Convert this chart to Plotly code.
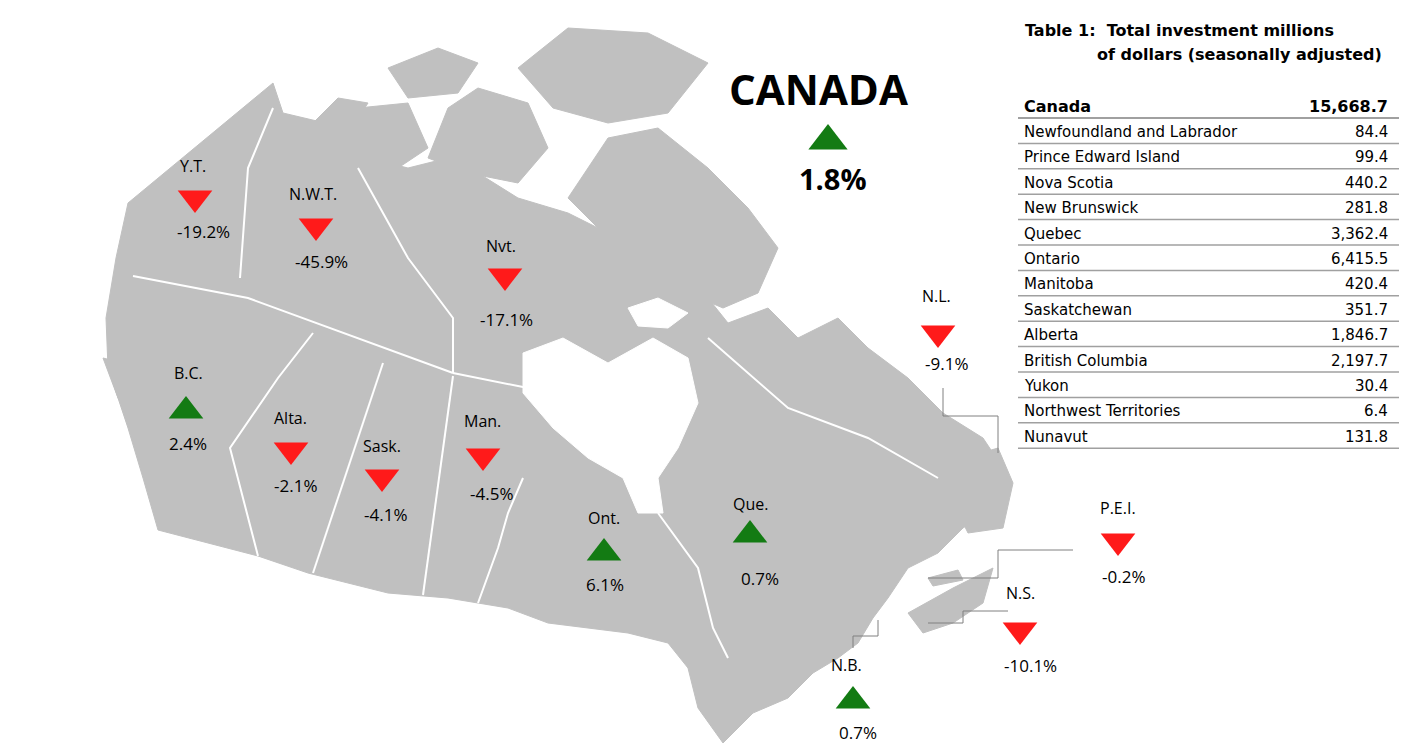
import plotly.graph_objects as go

# ---- data ----
regions = ["Y.T.", "N.W.T.", "Nvt.", "N.L.", "B.C.", "Alta.", "Sask.", "Man.",
           "Ont.", "Que.", "P.E.I.", "N.S.", "N.B."]
changes = [-19.2, -45.9, -17.1, -9.1, 2.4, -2.1, -4.1, -4.5, 6.1, 0.7, -0.2, -10.1, 0.7]
canada_change = 1.8

table_names = ["Newfoundland and Labrador", "Prince Edward Island", "Nova Scotia",
               "New Brunswick", "Quebec", "Ontario", "Manitoba", "Saskatchewan",
               "Alberta", "British Columbia", "Yukon", "Northwest Territories", "Nunavut"]
table_values = [84.4, 99.4, 440.2, 281.8, 3362.4, 6415.5, 420.4, 351.7,
                1846.7, 2197.7, 30.4, 6.4, 131.8]
canada_total = 15668.7

# label / marker / value positions (pixels) for each region
label_pos = [(185, 158), (305, 186), (493, 238), (928, 288), (180, 365), (282, 410),
             (374, 438), (474, 413), (596, 510), (742, 496), (1110, 500), (1012, 585), (838, 657)]
marker_pos = [(187, 190), (308, 218), (497, 268), (930, 325), (178, 403), (283, 442),
              (374, 469), (475, 448), (596, 545), (742, 527), (1110, 533), (1012, 622), (845, 693)]
value_pos = [(195, 223), (313, 253), (498, 311), (938, 355), (180, 435), (287, 477),
             (377, 506), (483, 485), (597, 576), (752, 570), (1115, 568), (1022, 657), (850, 724)]

GREY = "#c0c0c0"
fig = go.Figure()

def poly(pts, color=GREY, line=None):
    xs = [p[0] for p in pts] + [pts[0][0]]
    ys = [p[1] for p in pts] + [pts[0][1]]
    fig.add_trace(go.Scatter(x=xs, y=ys, fill="toself", fillcolor=color, mode="lines",
                             line=dict(color=line or color, width=1), hoverinfo="skip",
                             showlegend=False))

def pline(pts, color="white", width=2):
    fig.add_trace(go.Scatter(x=[p[0] for p in pts], y=[p[1] for p in pts], mode="lines",
                             line=dict(color=color, width=width), hoverinfo="skip",
                             showlegend=False))

# mainland silhouette (rough)
poly([(120, 195), (265, 75), (275, 105), (330, 118), (360, 150), (400, 160), (440, 150),
      (470, 165), (510, 190), (560, 205), (600, 225), (640, 235), (680, 250), (700, 290),
      (720, 315), (760, 300), (790, 330), (830, 310), (860, 340), (900, 370), (935, 405),
      (975, 430), (995, 460), (985, 500), (955, 520), (930, 545), (900, 560), (880, 590),
      (865, 610), (850, 635), (830, 650), (805, 665), (780, 690), (745, 705), (715, 735),
      (690, 700), (680, 660), (660, 635), (620, 625), (580, 620), (540, 615), (500, 600),
      (440, 590), (380, 585), (300, 565), (250, 548), (200, 535), (150, 522), (135, 470),
      (120, 420), (100, 360), (98, 310), (108, 250)])
# arctic islands
poly([(420, 150), (440, 100), (470, 80), (520, 95), (540, 140), (510, 175), (460, 165)])
poly([(330, 130), (350, 100), (400, 95), (420, 140), (390, 160), (350, 150)])
poly([(380, 60), (430, 40), (470, 55), (450, 85), (400, 90)])
poly([(510, 60), (560, 20), (640, 25), (700, 55), (660, 105), (600, 115), (545, 100)])
poly([(560, 190), (600, 130), (650, 120), (700, 160), (740, 200), (770, 240), (750, 285),
      (715, 300), (680, 285), (650, 255), (610, 240)])
poly([(300, 120), (330, 90), (360, 95), (340, 125)])
# Hudson Bay / James Bay
poly([(515, 345), (555, 330), (600, 355), (645, 330), (680, 350), (690, 395), (670, 440),
      (650, 470), (655, 505), (630, 505), (615, 470), (580, 450), (545, 420), (515, 385)],
     color="white")
poly([(620, 300), (650, 290), (680, 305), (660, 320), (630, 318)], color="white")
# Newfoundland, Nova Scotia, PEI
poly([(940, 455), (990, 440), (1005, 475), (995, 520), (960, 525), (945, 495)])
poly([(900, 605), (945, 580), (985, 560), (975, 595), (945, 615), (915, 625)])
poly([(920, 570), (950, 562), (955, 572), (925, 578)])
# Vancouver island
poly([(95, 350), (115, 355), (150, 420), (140, 430), (110, 390)])

# province borders
pline([(265, 100), (240, 160), (232, 270)])
pline([(125, 268), (240, 290), (445, 365)])
pline([(350, 160), (400, 250), (445, 310), (445, 365)])
pline([(445, 365), (520, 380)])
pline([(305, 325), (270, 370), (222, 440), (250, 548)])
pline([(375, 355), (305, 565)])
pline([(445, 368), (415, 587)])
pline([(515, 470), (500, 505), (490, 540), (470, 595)])
pline([(650, 505), (690, 560), (705, 620), (720, 650)])
pline([(700, 330), (780, 400), (860, 430), (930, 470)])

# connector lines
CON = "#808080"
pline([(935, 380), (935, 408), (990, 408), (990, 445)], CON, 1)
pline([(1065, 542), (990, 542), (990, 570), (920, 570)], CON, 1)
pline([(1000, 603), (955, 603), (955, 615), (920, 615)], CON, 1)
pline([(845, 640), (845, 628), (870, 628), (870, 612)], CON, 1)

# markers
up = [c > 0 for c in changes]
fig.add_trace(go.Scatter(
    x=[p[0] for p in marker_pos], y=[p[1] for p in marker_pos], mode="markers",
    marker=dict(symbol=["triangle-up" if u else "triangle-down" for u in up],
                color=["#137b13" if u else "#ff1a1a" for u in up], size=30,
                line=dict(width=0)),
    hoverinfo="skip", showlegend=False))
fig.add_trace(go.Scatter(
    x=[820], y=[133], mode="markers",
    marker=dict(symbol="triangle-up" if canada_change > 0 else "triangle-down",
                color="#137b13" if canada_change > 0 else "#ff1a1a", size=34),
    hoverinfo="skip", showlegend=False))

F = "Open Sans"
for r, c, lp, vp in zip(regions, changes, label_pos, value_pos):
    fig.add_annotation(x=lp[0], y=lp[1], text=r, showarrow=False,
                       font=dict(family=F, size=16, color="black"))
    fig.add_annotation(x=vp[0], y=vp[1], text=f"{c:.1f}%", showarrow=False,
                       font=dict(family=F, size=17, color="black"))
fig.add_annotation(x=810, y=80, text="<b>CANADA</b>", showarrow=False,
                   font=dict(family=F, size=42, color="black"))
fig.add_annotation(x=825, y=170, text=f"<b>{canada_change:.1f}%</b>", showarrow=False,
                   font=dict(family=F, size=29, color="black"))

# table
T = "DejaVu Sans"
fig.add_annotation(x=1015, y=22, xanchor="left", text="<b>Table 1:  Total investment millions</b>",
                   showarrow=False, font=dict(family=T, size=16, color="black"))
fig.add_annotation(x=1087, y=46, xanchor="left", text="<b>of dollars (seasonally adjusted)</b>",
                   showarrow=False, font=dict(family=T, size=16, color="black"))
row_h = 25.4
fig.add_annotation(x=1014, y=98, xanchor="left", text="<b>Canada</b>", showarrow=False,
                   font=dict(family=T, size=16, color="black"))
fig.add_annotation(x=1382, y=98, xanchor="right", text=f"<b>{canada_total:,.1f}</b>",
                   showarrow=False, font=dict(family=T, size=16, color="black"))
shapes = [dict(type="line", x0=1010, x1=1393, y0=110, y1=110, line=dict(color="#a0a0a0", width=2))]
for i, (n, v) in enumerate(zip(table_names, table_values)):
    yy = 124 + i * row_h
    fig.add_annotation(x=1014, y=yy, xanchor="left", text=n, showarrow=False,
                       font=dict(family=T, size=15, color="black"))
    fig.add_annotation(x=1382, y=yy, xanchor="right", text=f"{v:,.1f}", showarrow=False,
                       font=dict(family=T, size=15, color="black"))
    ly = 110 + (i + 1) * row_h
    shapes.append(dict(type="line", x0=1010, x1=1393, y0=ly, y1=ly,
                       line=dict(color="#a0a0a0", width=1.5)))

fig.update_layout(
    width=1407, height=744, margin=dict(l=0, r=0, t=0, b=0),
    paper_bgcolor="white", plot_bgcolor="white", shapes=shapes,
    xaxis=dict(range=[0, 1407], visible=False, fixedrange=True),
    yaxis=dict(range=[744, 0], visible=False, fixedrange=True),
)
fig.write_html("out.html")
